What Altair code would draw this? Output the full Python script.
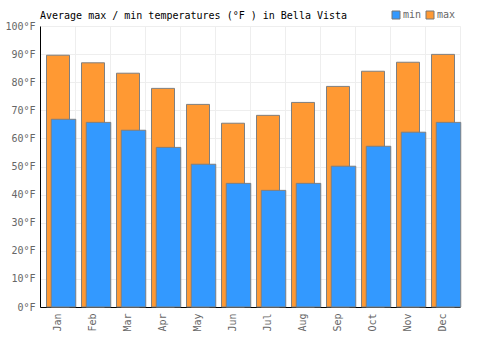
import altair as alt
import pandas as pd

months = ["Jan", "Feb", "Mar", "Apr", "May", "Jun", "Jul", "Aug", "Sep", "Oct", "Nov", "Dec"]
max_temps = [89.6, 86.9, 83.2, 77.8, 72.1, 65.4, 68.2, 72.8, 78.5, 83.9, 87.1, 89.9]
min_temps = [66.8, 65.7, 62.9, 56.8, 50.8, 44.0, 41.5, 44.0, 50.1, 57.2, 62.2, 65.7]

df = pd.DataFrame(
    [{"month": m, "series": "max", "value": v} for m, v in zip(months, max_temps)]
    + [{"month": m, "series": "min", "value": v} for m, v in zip(months, min_temps)]
)

FONT = "DejaVu Sans Mono"
GRAY = "#666666"

x = alt.X(
    "month:N",
    sort=months,
    scale=alt.Scale(paddingInner=0, paddingOuter=0),
    axis=alt.Axis(
        title=None, labelAngle=270, labelFont=FONT, labelFontSize=10, labelColor=GRAY,
        ticks=False, domain=True, domainColor="#000000", grid=True, gridColor="#eeeeee",
        bandPosition=0, labelPadding=6,
    ),
)
y = alt.Y(
    "value:Q",
    scale=alt.Scale(domain=[0, 100], nice=False),
    axis=alt.Axis(
        title=None, values=list(range(0, 101, 10)), labelExpr="datum.value + '°F'",
        labelFont=FONT, labelFontSize=10, labelColor=GRAY, ticks=False,
        domainColor="#000000", gridColor="#eeeeee", labelPadding=5,
    ),
)
color = alt.Color(
    "series:N",
    scale=alt.Scale(domain=["min", "max"], range=["#3399ff", "#ff9933"]),
    legend=alt.Legend(
        title=None, orient="none", legendX=351, legendY=-16, direction="horizontal",
        symbolType="square", symbolSize=64, symbolStrokeColor="#777777", symbolStrokeWidth=1,
        labelFont=FONT, labelFontSize=10, labelColor=GRAY, columnPadding=2, labelOffset=2,
    ),
)

base = alt.Chart(df)
max_bars = base.transform_filter(alt.datum.series == "max").mark_bar(
    size=23, xOffset=0.5, stroke="#7f7f7f", strokeWidth=1
).encode(x=x, y=y, color=color)
min_bars = base.transform_filter(alt.datum.series == "min").mark_bar(
    size=24.5, xOffset=6, stroke="#7f7f7f", strokeWidth=1
).encode(x=x, y=y, color=color)

chart = alt.layer(max_bars, min_bars).properties(
    width=420,
    height=281,
    autosize=alt.AutoSizeParams(type="none"),
    padding={"left": 40, "top": 26, "right": 40, "bottom": 43},
    title=alt.TitleParams(
        "Average max / min temperatures (°F ) in Bella Vista",
        anchor="start", frame="group", font=FONT, fontSize=10, fontWeight="normal",
        color="#000000", offset=7, dy=18,
    ),
).configure_view(stroke="#eeeeee")

chart.save("out.html", embed_options={"renderer": "svg", "actions": False})
